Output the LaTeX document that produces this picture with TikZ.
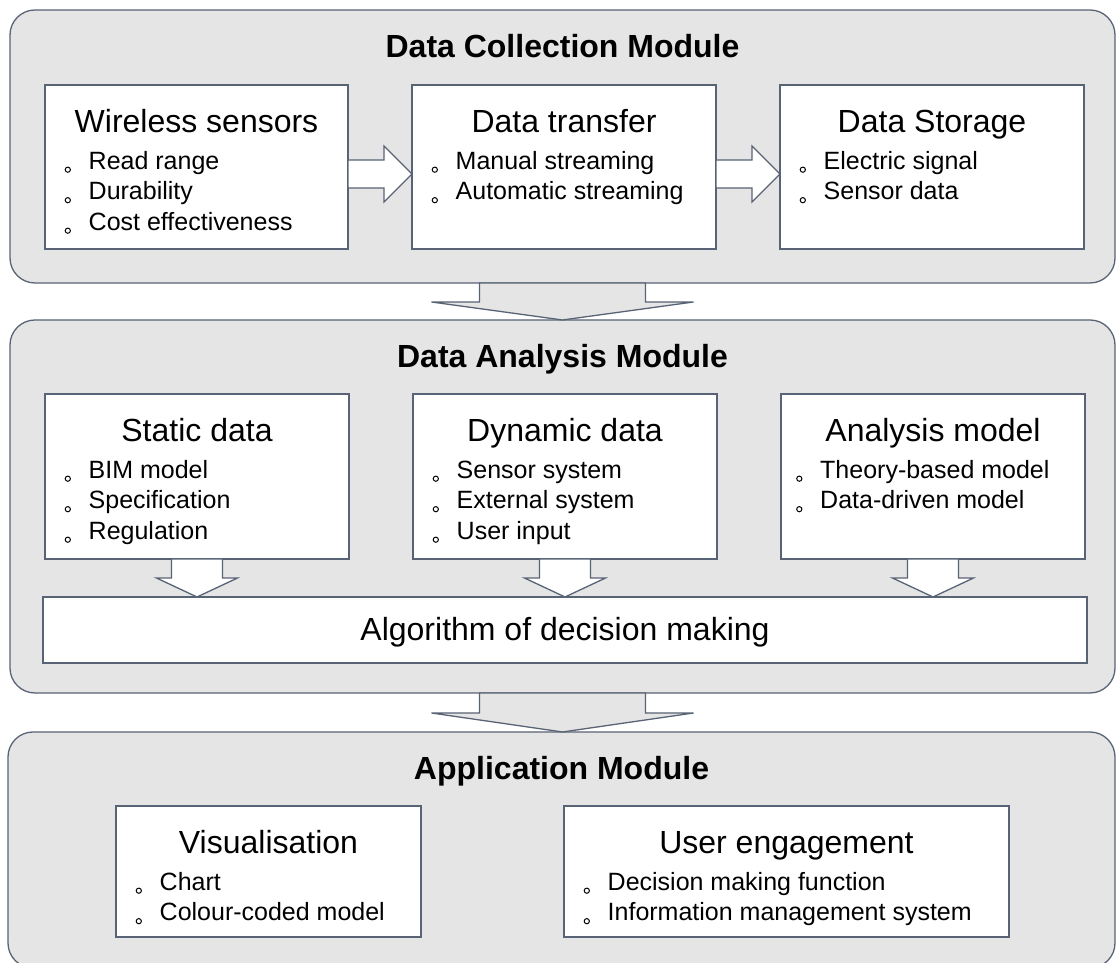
\documentclass[tikz,border=0pt]{standalone}
\usepackage{fontspec}
\setmainfont{Liberation Sans}
\usetikzlibrary{positioning,calc}

\definecolor{edgegray}{RGB}{88,99,117}
\definecolor{modgray}{RGB}{229,229,229}

% small hollow bullet sitting on the baseline
\newcommand{\bul}{\makebox[24pt][l]{\rule{0pt}{20pt}\tikz[baseline=0pt]\draw[black, line width=1pt] (0,-0.5pt) circle (2.6pt);}}

\begin{document}
\begin{tikzpicture}[
    x=1pt, y=1pt,
    module/.style={rectangle, draw=edgegray, line width=1.3pt, fill=modgray, rounded corners=25pt, outer sep=0pt},
    box/.style={rectangle, draw=edgegray, line width=1.3pt, fill=white, outer sep=0pt},
    title/.style={font=\fontsize{32}{38}\selectfont\bfseries, inner sep=0pt, text height=23pt},
    heading/.style={font=\fontsize{32}{38}\selectfont, inner sep=0pt, text height=23pt},
    items/.style={font=\fontsize{25}{30.5}\selectfont, align=left, inner sep=0pt},
    hollow/.style={draw=edgegray, line width=1.3pt, fill=white, line join=miter},
    wide/.style={draw=edgegray, line width=1.3pt, fill=modgray, line join=miter},
    block right/.style args={#1/#2/#3}{to path={let \p1=(\tikztostart), \p2=(\tikztotarget) in
        (\x1,\y1+#1) -- (\x2-#3,\y1+#1) -- (\x2-#3,\y1+#2) -- (\x2,\y1)
        -- (\x2-#3,\y1-#2) -- (\x2-#3,\y1-#1) -- (\x1,\y1-#1) -- cycle}},
    block down/.style args={#1/#2/#3}{to path={let \p1=(\tikztostart), \p2=(\tikztotarget) in
        (\x1-#1,\y1) -- (\x1-#1,\y2+#3) -- (\x1-#2,\y2+#3) -- (\x1,\y2)
        -- (\x1+#2,\y2+#3) -- (\x1+#1,\y2+#3) -- (\x1+#1,\y1) -- cycle}},
    node distance=64pt
]
\useasboundingbox (0,0) rectangle (1116,963);

% Modules
\node[module, minimum width=1105pt, minimum height=273pt] (collection) at (562.5,816.5) {};
\node[module, minimum width=1105pt, minimum height=373pt] (analysis) at (562.5,456.5) {};
\node[module, minimum width=1107pt, minimum height=236pt] (application) at (561.5,113) {};

\node[title, below=24pt of collection.north] (collection title) {Data Collection Module};
\node[title, below=24pt of analysis.north] (analysis title) {Data Analysis Module};
\node[title, below=24pt of application.north] (application title) {Application Module};

% Data collection boxes
\node[box, minimum width=303pt, minimum height=164pt] (sensors) at (196.5,796) {};
\node[box, minimum width=304pt, minimum height=164pt, right=of sensors] (transfer) {};
\node[box, minimum width=304pt, minimum height=164pt, right=of transfer] (storage) {};

\node[heading, below=24pt of sensors.north] (sensors head) {Wireless sensors};
\node[items, below right=64pt and 19.5pt of sensors.north west] (sensors list)
    {\bul Read range\\\bul Durability\\\bul Cost effectiveness};
\node[heading, below=24pt of transfer.north] (transfer head) {Data transfer};
\node[items, below right=64pt and 19.5pt of transfer.north west] (transfer list)
    {\bul Manual streaming\\\bul Automatic streaming};
\node[heading, below=24pt of storage.north] (storage head) {Data Storage};
\node[items, below right=64pt and 19.5pt of storage.north west] (storage list)
    {\bul Electric signal\\\bul Sensor data};

% Data analysis boxes
\node[box, minimum width=304pt, minimum height=165pt] (static) at (197,486.5) {};
\node[box, minimum width=304pt, minimum height=165pt, right=of static] (dynamic) {};
\node[box, minimum width=304pt, minimum height=165pt, right=of dynamic] (model) {};
\node[box, minimum width=1044pt, minimum height=66pt, below=38pt of dynamic,
      font=\fontsize{32}{38}\selectfont, text height=22pt, text depth=0pt] (algorithm) {Algorithm of decision making};

\node[heading, below=24pt of static.north] (static head) {Static data};
\node[items, below right=64pt and 19.5pt of static.north west] (static list)
    {\bul BIM model\\\bul Specification\\\bul Regulation};
\node[heading, below=24pt of dynamic.north] (dynamic head) {Dynamic data};
\node[items, below right=64pt and 19.5pt of dynamic.north west] (dynamic list)
    {\bul Sensor system\\\bul External system\\\bul User input};
\node[heading, below=24pt of model.north] (model head) {Analysis model};
\node[items, below right=64pt and 15pt of model.north west] (model list)
    {\bul Theory-based model\\\bul Data-driven model};

% Application boxes
\node[box, minimum width=305pt, minimum height=131pt] (visual) at (268.5,91.5) {};
\node[box, minimum width=445pt, minimum height=131pt, right=143pt of visual] (engage) {};

\node[heading, below=24pt of visual.north] (visual head) {Visualisation};
\node[items, below right=64pt and 19.5pt of visual.north west] (visual list)
    {\bul Chart\\\bul Colour-coded model};
\node[heading, below=24pt of engage.north] (engage head) {User engagement};
\node[items, below right=64pt and 19.5pt of engage.north west] (engage list)
    {\bul Decision making function\\\bul Information management system};

% Arrows inside modules
\draw[hollow, block right=14pt/28pt/28pt] ([yshift=-7pt]sensors.east) to ([yshift=-7pt]transfer.west);
\draw[hollow, block right=14pt/28pt/28pt] ([yshift=-7pt]transfer.east) to ([yshift=-7pt]storage.west);
\draw[hollow, block down=25.5pt/40.5pt/19pt] (static.south) to (algorithm.north);
\draw[hollow, block down=25.5pt/40.5pt/19pt] (dynamic.south) to (algorithm.north);
\draw[hollow, block down=25.5pt/40.5pt/19pt] (model.south) to (algorithm.north);

% Arrows between modules
\draw[wide, block down=83pt/131pt/18pt] (collection.south) to (analysis.north);
\draw[wide, block down=83pt/131pt/19pt] (analysis.south) to (application.north);

\end{tikzpicture}
\end{document}
